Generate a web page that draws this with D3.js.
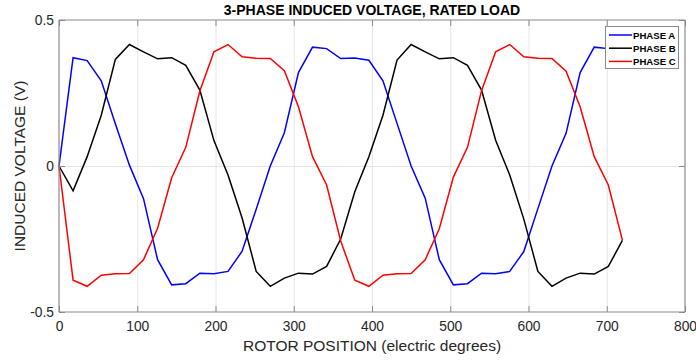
<!DOCTYPE html>
<html>
<head>
<meta charset="utf-8">
<script src="https://cdn.jsdelivr.net/npm/d3@7"></script>
<style>
  html, body { margin: 0; padding: 0; background: #fff; }
  svg { display: block; font-family: "Liberation Sans", Arial, sans-serif; }
</style>
</head>
<body>
<svg id="chart" width="696" height="360"></svg>
<script>
const rotorPosition = d3.range(0, 721, 18);
const phaseA = [0, 0.371, 0.361, 0.292, 0.145, 0.003, -0.112, -0.321, -0.407, -0.403,
  -0.367, -0.369, -0.361, -0.292, -0.148, 0.0, 0.114, 0.320, 0.407, 0.402,
  0.368, 0.370, 0.362, 0.292, 0.146, 0.0, -0.110, -0.321, -0.407, -0.403,
  -0.367, -0.369, -0.361, -0.293, -0.146, 0.0, 0.112, 0.320, 0.407, 0.402, 0.368];
const phaseB = [0, -0.085, 0.032, 0.174, 0.365, 0.416, 0.391, 0.367, 0.371, 0.345,
  0.260, 0.087, -0.031, -0.178, -0.361, -0.412, -0.384, -0.367, -0.370, -0.344,
  -0.250, -0.088, 0.032, 0.174, 0.363, 0.416, 0.391, 0.367, 0.371, 0.345,
  0.260, 0.088, -0.031, -0.182, -0.361, -0.412, -0.384, -0.367, -0.370, -0.344, -0.255];
const phaseC = [0, -0.391, -0.412, -0.374, -0.369, -0.368, -0.321, -0.213, -0.040, 0.064,
  0.257, 0.391, 0.416, 0.374, 0.369, 0.368, 0.326, 0.203, 0.032, -0.065,
  -0.257, -0.391, -0.412, -0.374, -0.369, -0.368, -0.321, -0.215, -0.038, 0.064,
  0.258, 0.391, 0.416, 0.374, 0.369, 0.368, 0.325, 0.203, 0.032, -0.065, -0.254];
const seriesNames = ["PHASE A", "PHASE B", "PHASE C"];
const seriesColors = ["#0000ff", "#000000", "#ff0000"];
const xTicks = [0, 100, 200, 300, 400, 500, 600, 700, 800];
const yTicks = [-0.5, 0, 0.5];
const yTickLabels = ["-0.5", "0", "0.5"];
const titleText = "3-PHASE INDUCED VOLTAGE, RATED LOAD";
const xLabelText = "ROTOR POSITION (electric degrees)";
const yLabelText = "INDUCED VOLTAGE (V)";

const series = [phaseA, phaseB, phaseC];

const svg = d3.select("#chart");
const mLeft = 59, mRight = 685, mTop = 20, mBottom = 312;
const x = d3.scaleLinear().domain([0, 800]).range([mLeft, mRight]);
const y = d3.scaleLinear().domain([-0.5, 0.5]).range([mBottom, mTop]);

const axisColor = "#8a8a8a";
const gridColor = "#e6e6e6";
const textColor = "#262626";

// grid
svg.append("g").selectAll("line").data(xTicks.slice(1, -1)).join("line")
  .attr("x1", d => x(d) + 0.5).attr("x2", d => x(d) + 0.5)
  .attr("y1", mTop).attr("y2", mBottom)
  .attr("stroke", gridColor).attr("stroke-width", 1);
svg.append("g").selectAll("line").data(yTicks.slice(1, -1)).join("line")
  .attr("x1", mLeft).attr("x2", mRight)
  .attr("y1", d => Math.round(y(d)) + 0.5).attr("y2", d => Math.round(y(d)) + 0.5)
  .attr("stroke", gridColor).attr("stroke-width", 1);

// lines
const line = d3.line().x((d, i) => x(rotorPosition[i])).y(d => y(d));
const plot = svg.append("g");
series.forEach((s, k) => {
  plot.append("path").datum(s)
    .attr("d", line)
    .attr("fill", "none")
    .attr("stroke", seriesColors[k])
    .attr("stroke-width", 1.5)
    .attr("stroke-linejoin", "miter");
});

// axes (MATLAB style inward ticks, box)
const xAxisB = d3.axisBottom(x).tickValues(xTicks).tickSize(-6).tickPadding(9).tickFormat(d3.format("d"));
const xAxisT = d3.axisTop(x).tickValues(xTicks).tickSize(-6).tickFormat("");
const yAxisL = d3.axisLeft(y).tickValues(yTicks).tickSize(-6).tickPadding(5).tickFormat((d, i) => yTickLabels[i]);
const yAxisR = d3.axisRight(y).tickValues(yTicks).tickSize(-6).tickFormat("");

function styleAxis(g) {
  g.select(".domain").attr("stroke", axisColor).attr("stroke-width", 1.2);
  g.selectAll(".tick line").attr("stroke", axisColor);
  g.selectAll(".tick text").attr("fill", textColor).attr("font-size", "13.8px")
    .attr("font-family", "'Liberation Sans', Arial, sans-serif");
}
svg.append("g").attr("transform", `translate(0,${mBottom})`).call(xAxisB).call(g => g.select(".domain").attr("d", `M${mLeft},0H${mRight}`)).call(styleAxis);
svg.append("g").attr("transform", `translate(0,${mTop})`).call(xAxisT).call(g => g.select(".domain").attr("d", `M${mLeft},0H${mRight}`)).call(styleAxis);
svg.append("g").attr("transform", `translate(${mLeft},0)`).call(yAxisL).call(g => g.select(".domain").attr("d", `M0,${mTop}V${mBottom}`)).call(styleAxis);
svg.append("g").attr("transform", `translate(${mRight},0)`).call(yAxisR).call(g => g.select(".domain").attr("d", `M0,${mTop}V${mBottom}`)).call(styleAxis);

// title and labels
svg.append("text").attr("x", (mLeft + mRight) / 2).attr("y", 15)
  .attr("text-anchor", "middle").attr("font-size", "14px").attr("font-weight", "bold")
  .attr("fill", "#000").text(titleText);
svg.append("text").attr("x", (mLeft + mRight) / 2).attr("y", 351)
  .attr("text-anchor", "middle").attr("font-size", "15.5px").attr("fill", textColor)
  .text(xLabelText);
svg.append("text").attr("transform", `translate(25,${(mTop + mBottom) / 2}) rotate(-90)`)
  .attr("text-anchor", "middle").attr("font-size", "15.5px").attr("fill", textColor)
  .text(yLabelText);

// legend
const lg = svg.append("g");
const lx = 605.5, ly = 26.5, lw = 73, lh = 42;
lg.append("rect").attr("x", lx).attr("y", ly).attr("width", lw).attr("height", lh)
  .attr("fill", "#fff").attr("stroke", axisColor).attr("stroke-width", 1);
seriesNames.forEach((name, k) => {
  const cy = 35 + k * 13.2;
  lg.append("line").attr("x1", 609).attr("x2", 632).attr("y1", cy).attr("y2", cy)
    .attr("stroke", seriesColors[k]).attr("stroke-width", 1.5);
  lg.append("text").attr("x", 633).attr("y", cy + 3.5)
    .attr("font-size", "9.6px").attr("font-weight", "bold").attr("fill", "#000")
    .text(name);
});
</script>
</body>
</html>
